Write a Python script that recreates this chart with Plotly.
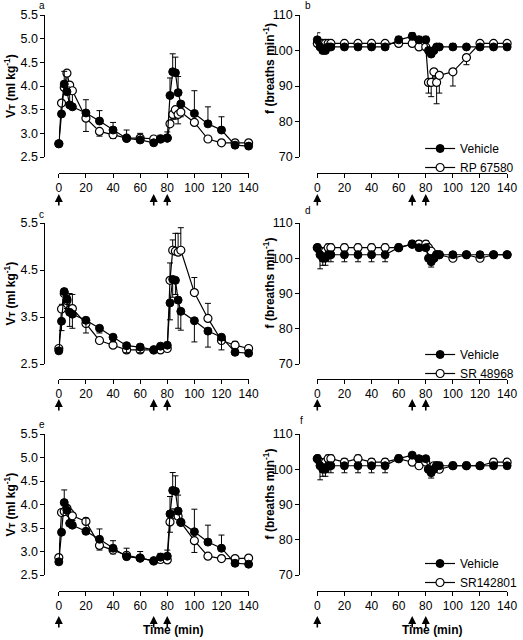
import plotly.graph_objects as go

# ---------------- data ----------------
time_min = [0, 2, 4, 6, 8, 10, 20, 30, 40, 50, 60, 70, 75, 80, 82, 84, 86, 88, 90, 100, 110, 120, 130, 140]
x_ticks = [0, 20, 40, 60, 80, 100, 120, 140]
arrow_times = [0, 70, 80]

# Tidal volume (ml/kg), vehicle group (same in panels a, c, e)
vt_vehicle = [2.78, 3.41, 4.04, 3.88, 3.60, 3.56, 3.43, 3.26, 3.07, 2.89, 2.86, 2.80, 2.88, 2.90,
              3.80, 4.30, 4.28, 3.86, 3.62, 3.42, 3.20, 3.07, 2.75, 2.73]
vt_vehicle_up = [0, 0, 0.27, 0.10, 0, 0.05, 0.28, 0.22, 0.16, 0.18, 0.14, 0, 0.08, 0.13,
                 0.37, 0.38, 0.33, 0.34, 0.05, 0.48, 0.36, 0.28, 0, 0]
vt_vehicle_down_c = [0, 0.20, 0, 0.20, 0.30, 0.30, 0.27, 0.10, 0.10, 0.15, 0.12, 0, 0.05, 0,
                     0.36, 0.38, 0.30, 0.60, 0.40, 0.45, 0.34, 0.27, 0, 0]

vt_rp67580 = [2.78, 3.64, 3.97, 4.27, 4.02, 3.90, 3.32, 3.04, 2.97, 2.90, 2.90, 2.88, 2.88, 2.90,
              3.20, 3.40, 3.50, 3.40, 3.45, 3.23, 2.88, 2.80, 2.80, 2.80]
vt_rp67580_down = [0, 0, 0, 0.30, 0.40, 0.30, 0.28, 0.10, 0.08, 0, 0, 0, 0, 0,
                   0, 0.10, 0.20, 0.20, 0.10, 0, 0, 0, 0, 0]

vt_sr48968 = [2.83, 3.67, 4.00, 3.85, 3.65, 3.68, 3.36, 3.00, 2.90, 2.80, 2.80, 2.80, 2.80, 2.83,
              4.28, 4.92, 4.90, 4.88, 4.92, 4.02, 3.47, 3.00, 2.90, 2.83]
vt_sr48968_up = [0, 0.10, 0, 0.15, 0.35, 0.30, 0, 0, 0, 0, 0, 0, 0, 0,
                 0.37, 0.22, 0.38, 0.40, 0.48, 0.32, 0.32, 0, 0.08, 0]

vt_sr142801 = [2.87, 3.83, 3.85, 3.92, 3.82, 3.76, 3.64, 3.13, 3.03, 2.92, 2.86, 2.80, 2.83, 2.82,
               3.63, 3.82, 3.78, 3.75, 3.62, 3.23, 2.90, 2.85, 2.85, 2.86]
vt_sr142801_down = [0, 0, 0, 0, 0.20, 0.10, 0, 0.10, 0.08, 0.05, 0, 0, 0, 0,
                    0.22, 0, 0, 0, 0, 0.25, 0, 0, 0, 0]

# Respiratory frequency (breaths/min)
f_vehicle = [103, 101, 100, 100, 101, 101, 101, 101, 101, 101, 103, 104, 103, 103,
             100, 99, 100, 101, 101, 101, 101, 101, 101, 101]
f_vehicle_up_b = [2, 0, 0, 0, 0, 0, 0, 0, 0, 0, 1, 1, 1, 1, 0, 0, 0, 0, 0, 1, 0, 0, 0, 0]
f_vehicle_down = [0, 4, 2, 2, 0, 2, 2, 2, 2, 2, 0, 0, 0, 0, 0, 1.5, 0, 0, 0, 0, 0, 0, 0, 0]
f_vehicle_up = [1, 0, 0, 0, 0, 0, 0, 0, 0, 0, 0, 0, 0, 0, 0, 0, 0, 0, 1, 1, 1, 0, 1, 0]

f_rp67580 = [102, 102, 102, 102, 102, 102, 102, 102, 102, 102, 102, 102, 101, 101,
             91, 91, 94, 91, 93, 94, 98, 102, 102, 102]
f_rp67580_down = [0, 0, 0, 0, 0, 0, 0, 0, 0, 0, 0, 0, 0, 0, 3, 4, 2, 6, 5, 4, 2, 0, 0, 0]

f_sr48968 = [103, 102, 101, 102, 103, 103, 103, 103, 103, 103, 103, 104, 104, 104,
             103, 102, 100, 101, 101, 100, 101, 100, 101, 101]
f_sr48968_up = [1, 1, 1, 1, 1, 1, 1, 1, 1, 1, 1, 1, 1, 1, 0, 0, 0, 0, 0, 0, 0, 0, 0, 0]

f_sr142801 = [103, 102, 101, 102, 103, 103, 102, 103, 102, 102, 103, 102, 101, 102,
              100, 100, 101, 101, 100, 101, 101, 101, 102, 102]
f_sr142801_up = [1, 1, 1, 1, 1, 1, 1, 1, 1, 1, 1, 1, 0, 0, 0, 0, 0, 0, 0, 0, 0, 0, 1, 1]

drug_names = ["RP 67580", "SR 48968", "SR142801"]

# ---------------- layout helpers ----------------
W, H = 523, 640
FONT = "Liberation Sans, Arial, Helvetica, sans-serif"

def px_x(p):
    return p / W

def px_y(p):
    return 1 - p / H

col_xdom = [(59.5, 251.5), (321.0, 513.0)]
col_yaxis = [45.0, 302.7]
row_ydom = [(15.0, 157.0), (223.0, 364.0), (434.0, 575.0)]
row_xaxis = [173.0, 379.0, 591.0]
row_arrow = [194.0, 399.0, 616.0]

fig = go.Figure()

panels = [
    ("a", 0, 0, vt_vehicle, (vt_vehicle_up, None), vt_rp67580, (None, vt_rp67580_down), drug_names[0],
     [2.5, 5.5], [2.5, 3.0, 3.5, 4.0, 4.5, 5.0, 5.5]),
    ("b", 0, 1, f_vehicle, (f_vehicle_up_b, None), f_rp67580, (None, f_rp67580_down), drug_names[0],
     [70, 110], [70, 80, 90, 100, 110]),
    ("c", 1, 0, vt_vehicle, (None, vt_vehicle_down_c), vt_sr48968, (vt_sr48968_up, None), drug_names[1],
     [2.5, 5.5], [2.5, 3.5, 4.5, 5.5]),
    ("d", 1, 1, f_vehicle, (None, f_vehicle_down), f_sr48968, (f_sr48968_up, None), drug_names[1],
     [70, 110], [70, 80, 90, 100, 110]),
    ("e", 2, 0, vt_vehicle, (vt_vehicle_up, None), vt_sr142801, (None, vt_sr142801_down), drug_names[2],
     [2.5, 5.5], [2.5, 3.0, 3.5, 4.0, 4.5, 5.0, 5.5]),
    ("f", 2, 1, f_vehicle, (f_vehicle_up, f_vehicle_down), f_sr142801, (f_sr142801_up, None), drug_names[2],
     [70, 110], [70, 80, 90, 100, 110]),
]

annotations = []
legend_names = ["legend", "legend2", "legend3"]
legend_tops = [134.0, 340.0, 549.0]


def err(up, down):
    zeros = [0] * len(time_min)
    return dict(type="data", symmetric=False,
                array=up if up is not None else zeros,
                arrayminus=down if down is not None else zeros,
                color="black", thickness=1, width=3)


for i, (letter, row, col, vy, verr, dy, derr, dname, yr, yt) in enumerate(panels, start=1):
    xa = "x" if i == 1 else f"x{i}"
    ya = "y" if i == 1 else f"y{i}"
    is_f = col == 1
    leg = legend_names[row]

    fig.add_trace(go.Scatter(
        x=time_min, y=dy, xaxis=xa, yaxis=ya, mode="lines+markers", name=dname,
        line=dict(color="black", width=1.2),
        marker=dict(symbol="circle", size=8, color="white", line=dict(color="black", width=1.2)),
        error_y=err(*derr), cliponaxis=False,
        showlegend=is_f, legend=leg, legendrank=2,
    ))
    fig.add_trace(go.Scatter(
        x=time_min, y=vy, xaxis=xa, yaxis=ya, mode="lines+markers", name="Vehicle",
        line=dict(color="black", width=1.2),
        marker=dict(symbol="circle", size=8, color="black", line=dict(color="black", width=1)),
        error_y=err(*verr), cliponaxis=False,
        showlegend=is_f, legend=leg, legendrank=1,
    ))

    xd = col_xdom[col]
    yd = row_ydom[row]
    axkey = "xaxis" if i == 1 else f"xaxis{i}"
    aykey = "yaxis" if i == 1 else f"yaxis{i}"
    fig.layout[axkey] = dict(
        domain=[px_x(xd[0]), px_x(xd[1])], range=[0, 140], anchor="free",
        position=px_y(row_xaxis[row]), showline=True, linecolor="black", linewidth=1,
        ticks="outside", ticklen=4, tickwidth=1, tickcolor="black",
        tickvals=x_ticks, showgrid=False, zeroline=False,
        tickfont=dict(family=FONT, size=12, color="black"), automargin=False,
    )
    ytxt = [f"{v:.1f}" for v in yt] if not is_f else [str(v) for v in yt]
    fig.layout[aykey] = dict(
        domain=[px_y(yd[1]), px_y(yd[0])], range=yr, anchor="free",
        position=px_x(col_yaxis[col]), showline=True, linecolor="black", linewidth=1,
        ticks="outside", ticklen=4, tickwidth=1, tickcolor="black",
        tickvals=yt, ticktext=ytxt, showgrid=False, zeroline=False,
        tickfont=dict(family=FONT, size=12.5, color="black"), automargin=False,
    )

    # stimulus arrows
    for t in arrow_times:
        annotations.append(dict(
            x=t, xref=xa, y=px_y(row_arrow[row]), yref="paper", text="",
            showarrow=True, ax=0, ay=13, axref="pixel", ayref="pixel",
            arrowhead=2, arrowsize=1, arrowwidth=1.6, arrowcolor="black", standoff=0,
        ))

    # panel letter
    lx = 42 if col == 0 else (312 if row < 2 else 305)
    ly = [5, 214, 424][row] if col == 0 else [5, 210, 420][row]
    annotations.append(dict(
        x=px_x(lx), y=px_y(ly), xref="paper", yref="paper", text=letter,
        showarrow=False, font=dict(family=FONT, size=10, color="black"),
        xanchor="center", yanchor="middle",
    ))

    # y-axis titles
    if is_f:
        title = "<b>f (breaths min<sup>-1</sup>)</b>"
        tx = 272
        ty = (yd[0] + yd[1]) / 2 - (18 if row == 0 else 11)
    else:
        title = "<b>V<span style='font-size:9px'>T</span> (ml kg<sup>-1</sup>)</b>"
        tx = 10
        ty = (yd[0] + yd[1]) / 2
    annotations.append(dict(
        x=px_x(tx), y=px_y(ty), xref="paper", yref="paper", text=title, textangle=-90,
        showarrow=False, font=dict(family=FONT, size=12, color="black"),
        xanchor="center", yanchor="middle",
    ))

# Time labels
for cx in (175, 437):
    annotations.append(dict(
        x=px_x(cx), y=px_y(639), xref="paper", yref="paper", text="<b>Time (min)</b>",
        showarrow=False, font=dict(family=FONT, size=12, color="black"),
        xanchor="center", yanchor="bottom",
    ))

legend_common = dict(
    xanchor="left", yanchor="top", bgcolor="rgba(0,0,0,0)", borderwidth=0,
    font=dict(family=FONT, size=12, color="black"), itemwidth=30, tracegroupgap=0,
    traceorder="normal",
)
for k, name in enumerate(legend_names):
    fig.layout[name] = dict(x=px_x(425), y=px_y(legend_tops[k]), **legend_common)

fig.update_layout(
    width=W, height=H, margin=dict(l=0, r=0, t=0, b=0),
    paper_bgcolor="white", plot_bgcolor="white",
    font=dict(family=FONT, size=12, color="black"),
    annotations=annotations,
)

fig.write_html("out.html", config={"displayModeBar": False},
               post_script="document.body.style.margin='0px';document.body.style.padding='0px';")
